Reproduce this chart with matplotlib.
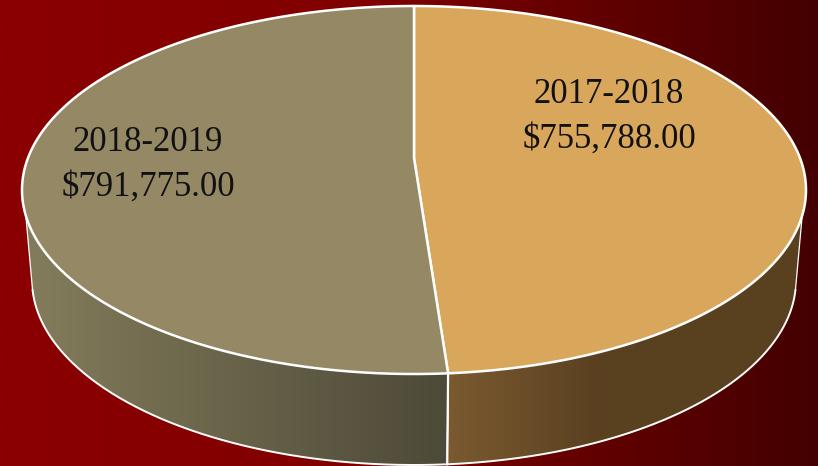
import numpy as np
import matplotlib
matplotlib.use("Agg")
import matplotlib.pyplot as plt
from matplotlib.colors import LinearSegmentedColormap
from matplotlib.patches import Polygon

periods = ["2017-2018", "2018-2019"]
amounts = [755788.00, 791775.00]
top_colors = ["#D9A75C", "#948865"]

W, H = 818, 466
CX = 414
TOP = dict(cy=190, rx=392, ry=184)
BOT = dict(cy=280, rx=382, ry=185)
HUB_Y = 158
h = (HUB_Y - TOP["cy"]) / TOP["ry"]

fig = plt.figure(figsize=(W / 100, H / 100), dpi=100)
ax = fig.add_axes([0, 0, 1, 1])
ax.set_xlim(0, W)
ax.set_ylim(H, 0)
ax.axis("off")


def gradient(stops, zorder, clip=None):
    cmap = LinearSegmentedColormap.from_list("g", stops)
    im = ax.imshow(np.linspace(0, 1, 818)[None, :], extent=(0, W, H, 0), aspect="auto",
                   cmap=cmap, zorder=zorder, interpolation="bilinear")
    if clip is not None:
        im.set_clip_path(clip)
    return im


def perspective(theta):
    """True pie angle (deg, clockwise from top) -> rim parameter in the picture."""
    t = np.radians(theta)
    X, Y = np.sin(t), -np.cos(t)
    d = 1 + h * Y
    return np.degrees(np.arctan2(X * np.sqrt(1 - h * h) / d, -(Y + h) / d)) % 360


def rim(t, e):
    r = np.radians(t)
    return np.column_stack([CX + e["rx"] * np.sin(r), e["cy"] - e["ry"] * np.cos(r)])


gradient([(0, "#8B0000"), (0.45, "#800000"), (1, "#440000")], 0)

frac = np.array(amounts) / sum(amounts)
split = perspective(360 * frac[0])

# side walls: (top arc start/end, bottom arc start/end, horizontal colour stops)
side_spec = [
    (98, split, 93, split,
     [(0, "#7B5A30"), (448 / W, "#7B5A30"), (600 / W, "#5A4020"), (1, "#59401F")]),
    (split, 262, split, 267,
     [(0, "#837C5C"), (30 / W, "#837C5C"), (170 / W, "#706A4E"), (445 / W, "#4E4A39"), (1, "#4E4A39")]),
]
for a_top, b_top, a_bot, b_bot, stops in side_spec:
    up = rim(np.linspace(a_top, b_top, 200), TOP)
    lo = rim(np.linspace(a_bot, b_bot, 200), BOT)
    poly = Polygon(np.vstack([up, lo[::-1]]), closed=True, facecolor="none",
                   edgecolor="none", transform=ax.transData)
    ax.add_patch(poly)
    gradient(stops, 1, clip=poly)
    ax.plot(lo[:, 0], lo[:, 1], color="white", lw=1.4, zorder=2, solid_capstyle="round")
    ax.plot([up[0, 0], lo[0, 0]], [up[0, 1], lo[0, 1]], color="white", lw=0.9, zorder=2)
    ax.plot([up[-1, 0], lo[-1, 0]], [up[-1, 1], lo[-1, 1]], color="white", lw=0.9, zorder=2)

# split line on the wall is heavier
s_up, s_lo = rim(np.array([split]), TOP)[0], rim(np.array([split]), BOT)[0]
ax.plot([s_up[0], s_lo[0]], [s_up[1], s_lo[1]], color="white", lw=1.6, zorder=2)

# top face, wedges built from the data
ranges = [(0, split), (split, 360)]
for (a, b), col in zip(ranges, top_colors):
    arc = rim(np.linspace(a, b, 400), TOP)
    ax.add_patch(Polygon(np.vstack([[CX, HUB_Y], arc]), closed=True, facecolor=col,
                         edgecolor="white", lw=1.8, joinstyle="round", zorder=3))

label_pos = [(609, 103, 148), (148, 151, 196)]
for p, v, (x, y1, y2) in zip(periods, amounts, label_pos):
    for s, y in ((p, y1), (f"${v:,.2f}", y2)):
        ax.text(x, y, s, ha="center", va="baseline", fontsize=25,
                family="Liberation Serif", color="#111111", zorder=4)

fig.savefig("out.png", dpi=100)
